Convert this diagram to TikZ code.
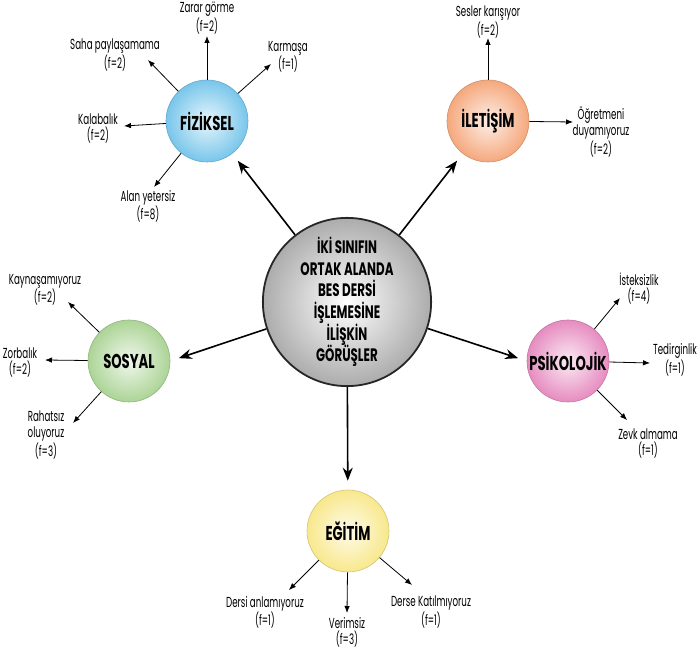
\documentclass[tikz,border=0pt]{standalone}
\usepackage{fontspec}
\setmainfont{Poppins}[FakeStretch=0.66]
\newfontfamily\leaffont{Poppins}[FakeStretch=0.6]
\usepackage{tikz}
\usetikzlibrary{arrows.meta}
\definecolor{hubgray}{RGB}{172,172,172}
\definecolor{fizblue}{RGB}{120,198,235}
\definecolor{ileorange}{RGB}{245,168,125}
\definecolor{sosgreen}{RGB}{172,212,150}
\definecolor{psipink}{RGB}{230,140,192}
\definecolor{egiyellow}{RGB}{248,232,140}

\tikzset{
  cat/.style={circle, minimum size=82pt, inner sep=0pt, draw=#1!85!black, line width=0.6pt,
    inner color=#1!18!white, outer color=#1, font=\fontsize{20}{22}\selectfont\bfseries},
  leaf/.style={align=center, inner sep=1pt, font=\leaffont\fontsize{14.5}{16}\selectfont},
  mainlink/.style={-{Stealth[length=13pt,width=10pt]}, line width=1.6pt, shorten >=9pt},
  sublink/.style={-{Latex[length=7pt,width=5.5pt]}, line width=0.8pt},
}

\begin{document}
\begin{tikzpicture}[x=1pt, y=-1pt]
\useasboundingbox (0,0) rectangle (697,652);

% centre
\node[circle, minimum size=164pt, draw=black!85, line width=1.8pt, inner color=white, outer color=hubgray,
  align=center, font=\fontsize{18}{21.6}\selectfont\bfseries] (hub) at (347,302)
  {İKİ SINIFIN\\ORTAK ALANDA\\BES DERSİ\\İŞLEMESİNE\\İLİŞKİN\\GÖRÜŞLER};

% themes
\node[cat=fizblue] (fiz) at (207,121) {FİZİKSEL};
\node[cat=ileorange] (ile) at (488,121) {İLETİŞİM};
\node[cat=sosgreen] (sos) at (129,361) {SOSYAL};
\node[cat=psipink] (psi) at (568,361) {PSİKOLOJİK};
\node[cat=egiyellow] (egi) at (348,531) {EĞİTİM};

\draw[mainlink] (hub) -- (fiz);
\draw[mainlink] (hub) -- (ile);
\draw[mainlink] (hub) -- (sos.east);
\draw[mainlink] (hub) -- (psi.west);
\draw[mainlink] (hub) -- (egi);

% codes
\node[leaf] (zarar) at (207,18) {Zarar görme\\(f=2)};
\node[leaf] (saha) at (115,55) {Saha paylaşamama\\(f=2)};
\node[leaf] (karmasa) at (288,57) {Karmaşa\\(f=1)};
\node[leaf] (kalabalik) at (98,128) {Kalabalık\\(f=2)};
\node[leaf] (alan) at (148,206) {Alan yetersiz\\(f=8)};

\node[leaf] (sesler) at (488,22) {Sesler karışıyor\\(f=2)};
\node[leaf] (ogretmen) at (601,132) {Öğretmeni\\duyamıyoruz\\(f=2)};

\node[leaf] (kaynas) at (45,290) {Kaynaşamıyoruz\\(f=2)};
\node[leaf] (zorba) at (20,362) {Zorbalık\\(f=2)};
\node[leaf] (rahatsiz) at (46,435) {Rahatsız\\oluyoruz\\(f=3)};

\node[leaf] (isteksiz) at (639,289) {İsteksizlik\\(f=4)};
\node[leaf] (tedirgin) at (675,360) {Tedirginlik\\(f=1)};
\node[leaf] (zevk) at (648,443) {Zevk almama\\(f=1)};

\node[leaf] (dersi) at (265,612) {Dersi anlamıyoruz\\(f=1)};
\node[leaf] (verimsiz) at (347,632) {Verimsiz\\(f=3)};
\node[leaf] (derse) at (431,612) {Derse Katılmıyoruz\\(f=1)};

% arrow tips next to the codes
\coordinate (t-zarar) at (207,36);
\coordinate (t-saha) at (148,60);
\coordinate (t-karmasa) at (271,64);
\coordinate (t-kalabalik) at (124,126);
\coordinate (t-alan) at (154,187);
\coordinate (t-sesler) at (488,38);
\coordinate (t-ogretmen) at (573,122);
\coordinate (t-kaynas) at (68,302);
\coordinate (t-zorba) at (45,360);
\coordinate (t-rahatsiz) at (73,423);
\coordinate (t-isteksiz) at (620,298);
\coordinate (t-tedirgin) at (650,363);
\coordinate (t-zevk) at (627,420);
\coordinate (t-dersi) at (289,590);
\coordinate (t-verimsiz) at (347,613);
\coordinate (t-derse) at (412,585);

\draw[sublink] (fiz) -- (t-zarar);
\draw[sublink] (fiz) -- (t-saha);
\draw[sublink] (fiz) -- (t-karmasa);
\draw[sublink] (fiz) -- (t-kalabalik);
\draw[sublink] (fiz) -- (t-alan);
\draw[sublink] (ile) -- (t-sesler);
\draw[sublink] (ile) -- (t-ogretmen);
\draw[sublink] (sos) -- (t-kaynas);
\draw[sublink] (sos) -- (t-zorba);
\draw[sublink] (sos) -- (t-rahatsiz);
\draw[sublink] (psi) -- (t-isteksiz);
\draw[sublink] (psi) -- (t-tedirgin);
\draw[sublink] (psi) -- (t-zevk);
\draw[sublink] (egi) -- (t-dersi);
\draw[sublink] (egi) -- (t-verimsiz);
\draw[sublink] (egi) -- (t-derse);
\end{tikzpicture}
\end{document}
